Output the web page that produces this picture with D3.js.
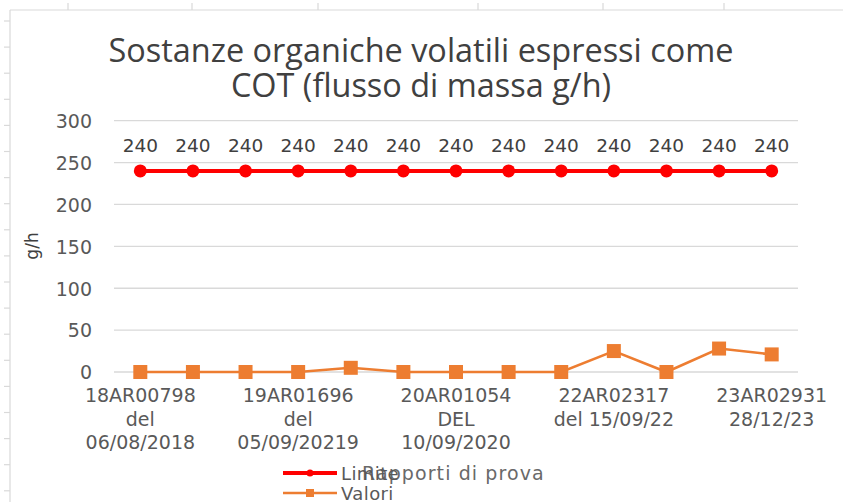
<!DOCTYPE html>
<html>
<head>
<meta charset="utf-8">
<script src="https://cdn.jsdelivr.net/npm/d3@7/dist/d3.min.js"></script>
<style>
  html, body { margin: 0; padding: 0; background: #fff; }
  svg { display: block; }
</style>
</head>
<body>
<svg id="chart" width="843" height="502"></svg>
<script>
// ---- data ----
const titleLines = ["Sostanze organiche volatili espressi come", "COT (flusso di massa g/h)"];
// 13 test reports; only every third label is legible in the chart (others hidden by Excel)
const categories = [
  "18AR00798\ndel\n06/08/2018", null, null,
  "19AR01696\ndel\n05/09/20219", null, null,
  "20AR01054\nDEL\n10/09/2020", null, null,
  "22AR02317\ndel 15/09/22", null, null,
  "23AR02931\n28/12/23"
];
const limiteValues = [240, 240, 240, 240, 240, 240, 240, 240, 240, 240, 240, 240, 240];
const valoriValues = [0, 0, 0, 0, 5, 0, 0, 0, 0, 25, 0, 28, 21];
const yTicks = [0, 50, 100, 150, 200, 250, 300];
const seriesNames = ["Limite", "Valori"];
const yTitle = "g/h";
const xTitle = "Rapporti di prova";

// ---- layout ----
const svg = d3.select("#chart");
const W = 843, H = 502;
const plot = { left: 114, right: 798, top: 120.7, bottom: 372 };
const fontNum = "'DejaVu Sans', Verdana, sans-serif";

// decorative sheet frame (spreadsheet gridline marks)
const frame = svg.append("g").attr("stroke", "#d9d9d9").attr("stroke-width", 1.2);
frame.append("line").attr("x1", 10).attr("x2", W).attr("y1", 10).attr("y2", 10);
frame.append("line").attr("x1", 10).attr("x2", 10).attr("y1", 10).attr("y2", H);
[68, 192, 318, 478, 603, 724].forEach(x =>
  frame.append("line").attr("x1", x).attr("x2", x).attr("y1", 3).attr("y2", 10));
d3.range(0, 19).forEach(k => {
  const y = 21 + 26.1 * k;
  frame.append("line").attr("x1", 4).attr("x2", 10).attr("y1", y).attr("y2", y);
});

// scales
const x = d3.scaleBand().domain(d3.range(categories.length)).range([plot.left, plot.right]).padding(0);
const y = d3.scaleLinear().domain([0, 300]).range([plot.bottom, plot.top]);
const cx = i => x(i) + x.bandwidth() / 2;

// gridlines
svg.append("g").selectAll("line").data(yTicks).join("line")
  .attr("x1", plot.left).attr("x2", plot.right)
  .attr("y1", d => y(d)).attr("y2", d => y(d))
  .attr("stroke", "#d9d9d9").attr("stroke-width", 1.3);

// y axis labels
const yAxis = svg.append("g").attr("transform", `translate(${plot.left - 22},0)`)
  .call(d3.axisLeft(y).tickValues(yTicks).tickSize(0).tickPadding(0));
yAxis.select(".domain").remove();
yAxis.selectAll("text").attr("font-family", fontNum).attr("font-size", 19)
  .attr("fill", "#595959").attr("dy", "0.36em");

// y title
svg.append("text").attr("transform", "translate(38,246) rotate(-90)")
  .attr("text-anchor", "middle").attr("font-family", fontNum).attr("font-size", 17)
  .attr("fill", "#404040").text(yTitle);

// x axis labels (multi-line)
const xAxis = svg.append("g").attr("transform", `translate(0,${plot.bottom})`)
  .call(d3.axisBottom(x).tickSize(0).tickFormat(() => ""));
xAxis.select(".domain").remove();
xAxis.selectAll(".tick").each(function(d) {
  const lab = categories[d];
  if (!lab) return;
  const t = d3.select(this).select("text").text(null)
    .attr("font-family", fontNum).attr("font-size", 19).attr("fill", "#595959")
    .attr("y", 0).attr("dy", null);
  lab.split("\n").forEach((s, k) => {
    t.append("tspan").attr("x", 0).attr("y", 30 + 23.5 * k).text(s);
  });
});

// lines
const line = d3.line().x((d, i) => cx(i)).y(d => y(d));
svg.append("path").datum(limiteValues).attr("d", line)
  .attr("fill", "none").attr("stroke", "#ff0000").attr("stroke-width", 4);
svg.append("g").selectAll("circle").data(limiteValues).join("circle")
  .attr("cx", (d, i) => cx(i)).attr("cy", d => y(d)).attr("r", 6.5).attr("fill", "#ff0000");

svg.append("path").datum(valoriValues).attr("d", line)
  .attr("fill", "none").attr("stroke", "#ed7d31").attr("stroke-width", 2.6);
const sq = 14;
svg.append("g").selectAll("rect").data(valoriValues).join("rect")
  .attr("x", (d, i) => cx(i) - sq / 2).attr("y", d => y(d) - sq / 2)
  .attr("width", sq).attr("height", sq).attr("fill", "#ed7d31");

// data labels on limit
svg.append("g").selectAll("text").data(limiteValues).join("text")
  .attr("x", (d, i) => cx(i)).attr("y", d => y(d) - 19)
  .attr("text-anchor", "middle").attr("font-family", fontNum).attr("font-size", 18.5)
  .attr("fill", "#404040").text(d => d);

// title
const title = svg.append("g");
titleLines.forEach((s, k) => {
  title.append("text").attr("x", 421).attr("y", 62 + 35 * k)
    .attr("text-anchor", "middle").attr("font-family", "'Open Sans', Lato, sans-serif")
    .attr("font-size", 28).attr("fill", "#404040").text(s);
});
// fit first line to measured width (~625px)
const t0 = title.select("text").node();
const fs = 28 * 625 / t0.getComputedTextLength();
title.selectAll("text").attr("font-size", fs);

// legend
const leg = svg.append("g");
const legY = [473, 493];
const legColors = ["#ff0000", "#ed7d31"];
const legW = [4, 2.6];
seriesNames.forEach((nm, k) => {
  leg.append("line").attr("x1", 283).attr("x2", 337).attr("y1", legY[k]).attr("y2", legY[k])
    .attr("stroke", legColors[k]).attr("stroke-width", legW[k]);
  if (k === 0) leg.append("circle").attr("cx", 310).attr("cy", legY[k]).attr("r", 3.5).attr("fill", legColors[k]);
  else leg.append("rect").attr("x", 306).attr("y", legY[k] - 4).attr("width", 8).attr("height", 8).attr("fill", legColors[k]);
  leg.append("text").attr("x", 341).attr("y", legY[k] + 6.5)
    .attr("font-family", fontNum).attr("font-size", 18).attr("letter-spacing", 0.4)
    .attr("fill", "#595959").text(nm);
});

// x axis title (overlapping legend as in the reference)
svg.append("text").attr("x", 362).attr("y", 479.5)
  .attr("font-family", fontNum).attr("font-size", 19).attr("letter-spacing", 1.1)
  .attr("fill", "#595959").attr("opacity", 0.9).text(xTitle);
</script>
</body>
</html>
